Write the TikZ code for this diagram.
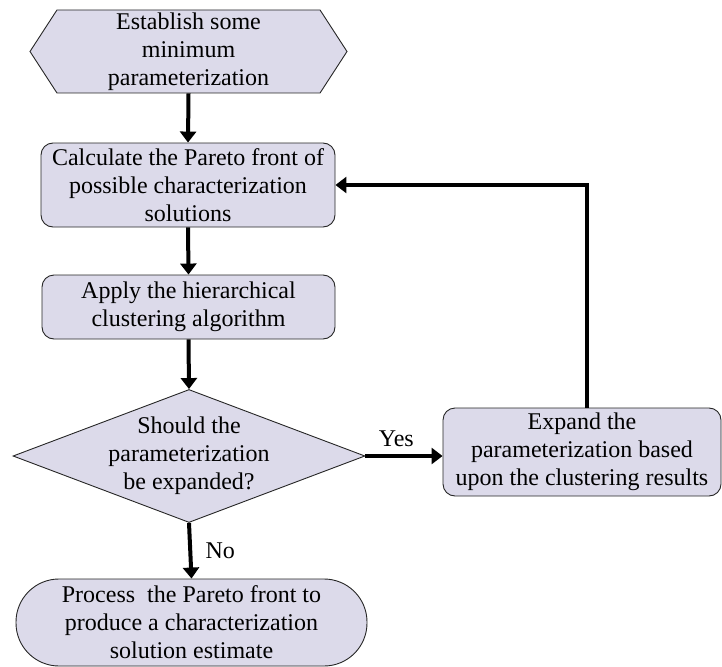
\documentclass[tikz,border=0pt]{standalone}
\usepackage{fontspec}
\setmainfont{Liberation Serif}
\usetikzlibrary{shapes.geometric,shapes.symbols,arrows.meta}
\definecolor{boxfill}{RGB}{220,218,234}
\begin{document}
\begin{tikzpicture}[x=1pt,y=-1pt,
  every node/.style={font=\fontsize{24}{28}\selectfont},
  base/.style={draw=black!85, line width=0.9pt, fill=boxfill, align=center, inner sep=0pt},
  proc/.style={base, rectangle, rounded corners=12pt},
  flow/.style={line width=4pt, -{Triangle[width=16pt,length=11pt]}},
]
\useasboundingbox (0,0) rectangle (722,666);

\node[base, signal, signal to=west and east, signal pointer angle=114,
      minimum width=317pt, minimum height=83pt] (hex) at (188.5,51.5)
      {Establish some\\minimum\\parameterization};
\node[proc, minimum width=294pt, minimum height=84pt] (calc) at (188,185)
      {Calculate the Pareto front of\\possible characterization\\solutions};
\node[proc, minimum width=293pt, minimum height=64pt] (apply) at (188.5,307)
      {Apply the hierarchical\\clustering algorithm};
\node[base, diamond, aspect=2.65, minimum width=352pt, minimum height=133pt,
      label={[align=center]center:Should the\\parameterization\\be expanded?}] (dec) at (189,456) {};
\node[proc, minimum width=278pt, minimum height=88pt] (exp) at (582,452)
      {Expand the\\parameterization based\\upon the clustering results};
\node[base, rectangle, rounded corners=43pt, minimum width=351pt, minimum height=87pt] (term) at (191.5,622.5)
      {Process\ \ the Pareto front to\\produce a characterization\\solution estimate};

\coordinate (turn) at (587,185);
\draw[flow] (hex.south) -- (calc.north);
\draw[flow] (calc.south) -- (apply.north);
\draw[flow] (apply.south) -- (dec.north);
\draw[flow] (dec.east) -- (dec.east -| exp.west) node[pos=0.4, above=4pt] {Yes};
\draw[flow] (dec.south) -- (term.north) node[midway, right=10pt] {No};
\draw[flow] (exp.north -| turn) -- (turn |- calc.east) -- (calc.east);
\end{tikzpicture}
\end{document}
